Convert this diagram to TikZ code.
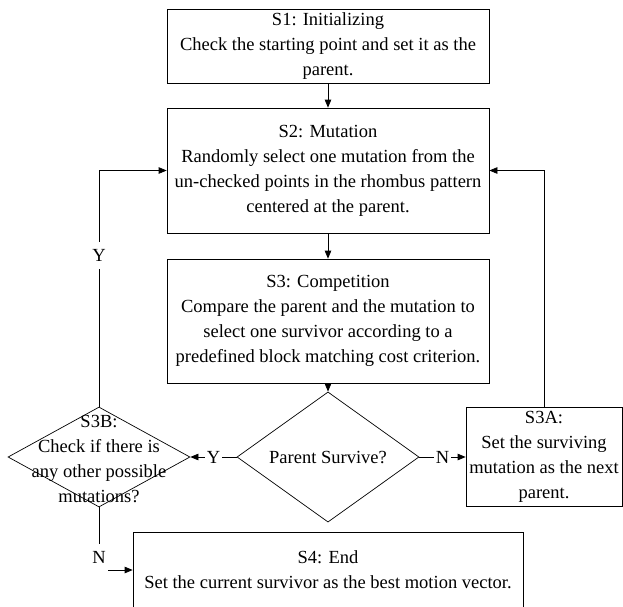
\documentclass[tikz,border=0pt]{standalone}
\usepackage{fontspec}
\setmainfont{Liberation Serif}
\usetikzlibrary{shapes.geometric,arrows.meta}

\begin{document}
\begin{tikzpicture}[x=1pt,y=-1pt,line width=0.7pt,
 >={Triangle[length=8pt,width=6.5pt]},
 font=\fontsize{18.5pt}{25pt}\selectfont,
 stepbox/.style={draw, rectangle, inner sep=0pt, align=center},
 decision/.style={draw, diamond, inner sep=0pt, minimum width=182pt, minimum height=100pt},
 lbl/.style={fill=white, inner xsep=1.5pt, inner ysep=7pt}]

 \clip (0,0) rectangle (623,606);


 \node[stepbox, minimum width=322pt, minimum height=74pt] (s1) at (328,46)
  {S1: Initializing\\ Check the starting point and set it as the\\ parent.};

 \node[stepbox, minimum width=322pt, minimum height=125pt] (s2) at (328,170.5)
  {S2: Mutation\\ Randomly select one mutation from the\\ un-checked points in the rhombus pattern\\ centered at the parent.};

 \node[stepbox, minimum width=322pt, minimum height=124pt] (s3) at (328,321)
  {S3: Competition\\ Compare the parent and the mutation to\\ select one survivor according to a\\ predefined block matching cost criterion.};

 \node[decision] (dec) at (328,457) {Parent Survive?};

 \node[decision] (s3b) at (99,457) {};
 \node[align=center] (s3btext) at (99,459)
  {S3B:\\ Check if there is\\ any other possible\\ mutations?};

 \node[stepbox, minimum width=156pt, minimum height=99pt] (s3a) at (544,457)
  {S3A:\\ Set the surviving\\ mutation as the next\\ parent.};

 \node[stepbox, minimum width=390pt, minimum height=76pt] (s4) at (328,570)
  {S4: End\\ Set the current survivor as the best motion vector.};

 \node[lbl] (nlbl) at (99,557) {N};
 \coordinate (nend) at (108,570);


 \draw[->] (s1) -- (s2);
 \draw[->] (s2) -- (s3);
 \draw[->] (s3) -- (dec);

 \draw[->] (dec) -- node[lbl]{Y} (s3b);
 \draw[->] (dec) -- node[lbl]{N} (s3a);

 \draw[->] (s3a.north) |- (s2.east);
 \draw[->] (s3b.north) |- node[lbl, pos=0.32]{Y} (s2.west);

 \draw (s3b.south) -- (nlbl);
 \draw[->] (nend) -- (s4.west);



\end{tikzpicture}
\end{document}
